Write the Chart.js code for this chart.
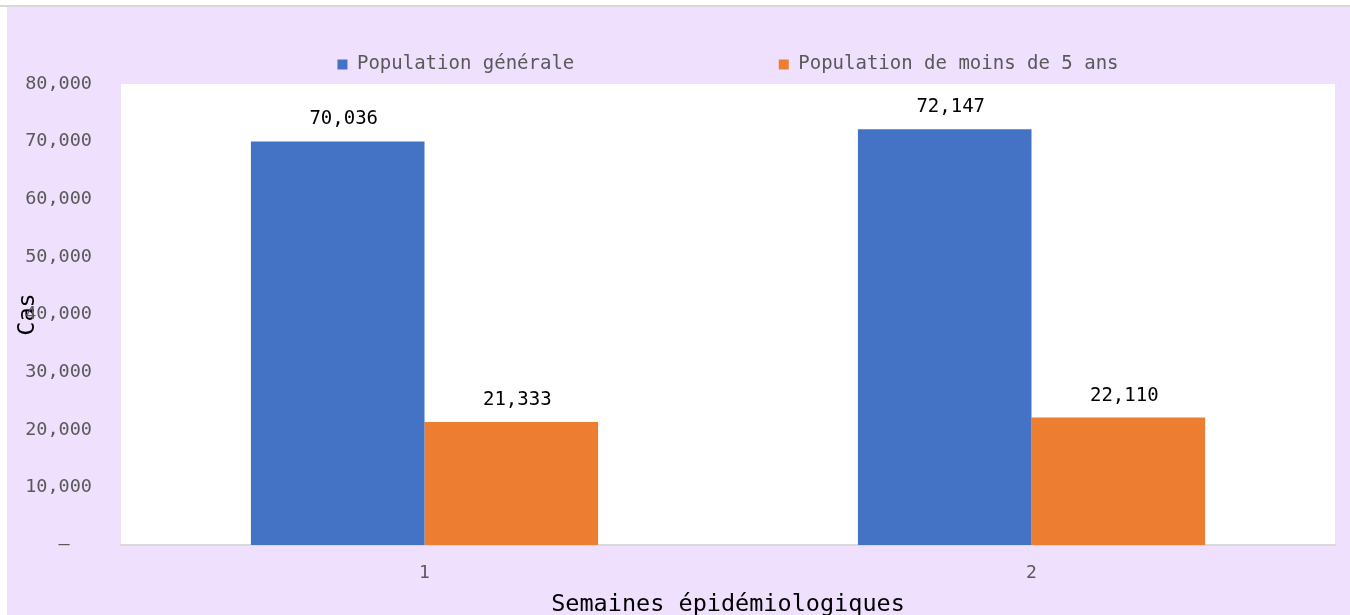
<!DOCTYPE html>
<html>
<head>
<meta charset="utf-8">
<script src="https://cdn.jsdelivr.net/npm/chart.js@4"></script>
<style>
  body { margin: 0; background: #fff; width: 1350px; height: 615px; overflow: hidden; position: relative; }
  #topline { position: absolute; left: 0; top: 5px; width: 1350px; height: 2px; background: #d9d9d9; }
  #box { position: absolute; left: 7px; top: 7px; width: 1343px; height: 608px; background: #efe0fd; }
</style>
</head>
<body>
<div id="topline"></div>
<div id="box"><canvas id="chart"></canvas></div>
<script>
const weeks = ['1', '2'];
const general = [70036, 72147];
const under5 = [21333, 22110];
const seriesNames = ['Population générale', 'Population de moins de 5 ans'];
const yTicks = [0, 10000, 20000, 30000, 40000, 50000, 60000, 70000, 80000];

const mono = "'DejaVu Sans Mono', monospace";

function fmt(v) {
  if (v === 0) return '–  ';
  return v.toLocaleString('en-US');
}

// white plot area
const plotBg = {
  id: 'plotBg',
  beforeDraw(chart) {
    const a = chart.chartArea;
    const ctx = chart.ctx;
    ctx.save();
    ctx.fillStyle = '#ffffff';
    ctx.fillRect(a.left, a.top, a.right - a.left, a.bottom - a.top);
    ctx.restore();
  }
};

// value labels above bars
const barLabels = {
  id: 'barLabels',
  afterDatasetsDraw(chart) {
    const ctx = chart.ctx;
    ctx.save();
    ctx.font = '19px ' + mono;
    ctx.fillStyle = '#000';
    ctx.textAlign = 'center';
    ctx.textBaseline = 'middle';
    chart.data.datasets.forEach((ds, i) => {
      chart.getDatasetMeta(i).data.forEach((bar, j) => {
        ctx.fillText(fmt(ds.data[j]), bar.x + 6, bar.y - 22);
      });
    });
    ctx.restore();
  }
};

new Chart(document.getElementById('chart'), {
  type: 'bar',
  data: {
    labels: weeks,
    datasets: [
      { label: seriesNames[0], data: general, backgroundColor: '#4472c4', borderWidth: 0 },
      { label: seriesNames[1], data: under5, backgroundColor: '#ed7d31', borderWidth: 0 }
    ]
  },
  options: {
    responsive: true,
    maintainAspectRatio: false,
    animation: false,
    datasets: { bar: { categoryPercentage: 0.572, barPercentage: 1 } },
    layout: { padding: { top: 38, left: 19, right: 15, bottom: 0 } },
    plugins: {
      tooltip: { enabled: false },
      legend: {
        position: 'top',
        fullSize: false,
        labels: {
          boxWidth: 10,
          boxHeight: 10,
          padding: 10,
          color: '#595959',
          font: { family: mono, size: 19 },
          generateLabels(chart) {
            const items = Chart.defaults.plugins.legend.labels.generateLabels(chart);
            items[0].text = items[0].text + ' '.repeat(17);
            return items;
          }
        }
      }
    },
    scales: {
      x: {
        afterFit(axis) { axis.height = 70; },
        grid: { display: false, drawTicks: false },
        border: { display: true, color: '#d9d9d9', width: 2 },
        ticks: { color: '#595959', padding: 18, font: { family: mono, size: 18 } },
        title: {
          display: true,
          text: 'Semaines épidémiologiques',
          color: '#000',
          font: { family: mono, size: 23.5, lineHeight: 0.85 },
          padding: { top: 8, bottom: 0 }
        }
      },
      y: {
        min: 0,
        max: 80000,
        afterBuildTicks(axis) { axis.ticks = yTicks.map(v => ({ value: v })); },
        afterFit(axis) { axis.width = 95; },
        grid: { display: false, drawTicks: false },
        border: { display: false },
        ticks: { color: '#595959', padding: 29, font: { family: mono, size: 18.5 }, callback: v => fmt(v) },
        title: {
          display: true,
          text: 'Cas',
          color: '#000',
          font: { family: mono, size: 23.5, lineHeight: 1.2 },
          padding: { top: -12, bottom: 0 }
        }
      }
    }
  },
  plugins: [plotBg, barLabels]
});
</script>
</body>
</html>
